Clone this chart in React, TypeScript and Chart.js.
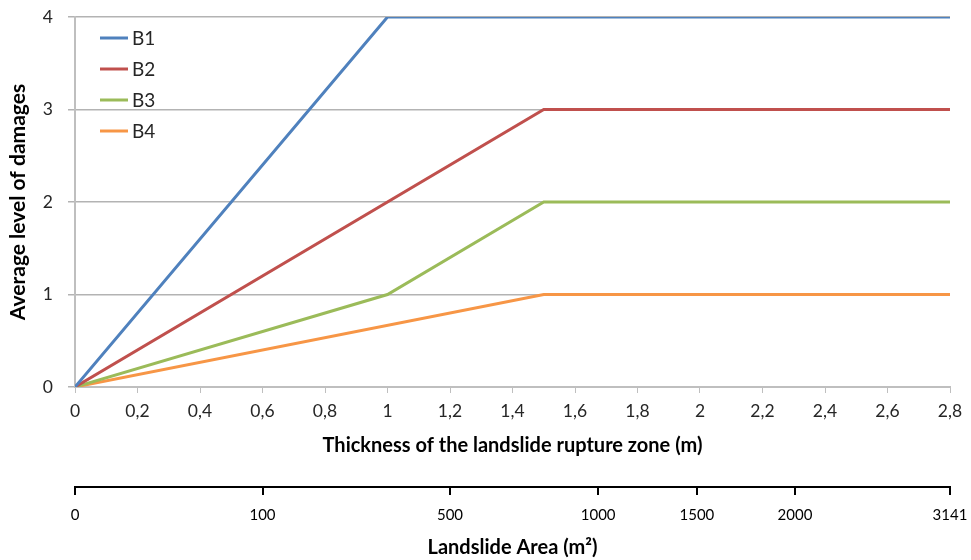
import React, { useEffect, useRef } from "react";
import { Chart, registerables } from "chart.js";

Chart.register(...registerables);

const SERIES_NAMES = ["B1", "B2", "B3", "B4"];
const SERIES_COLORS = ["#4f81bd", "#c0504d", "#9bbb59", "#f79646"];
const B1_X = [0, 1, 2.8];
const B1_Y = [0, 4, 4];
const B2_X = [0, 1.5, 2.8];
const B2_Y = [0, 3, 3];
const B3_X = [0, 1, 1.5, 2.8];
const B3_Y = [0, 1, 2, 2];
const B4_X = [0, 1.5, 2.8];
const B4_Y = [0, 1, 1];

// Landslide area secondary axis: labels and their thickness-equivalent positions
const AREA_LABELS = ["0", "100", "500", "1000", "1500", "2000", "3141"];
const AREA_POS = [0, 0.6, 1.2, 1.674, 1.99, 2.304, 2.8];

const FONT = "Lato, 'Open Sans', sans-serif";

const legendPlugin = {
  id: "insideLegend",
  afterDraw(chart: any) {
    const ctx = chart.ctx;
    const area = chart.chartArea;
    ctx.save();
    chart.data.datasets.forEach((ds: any, i: number) => {
      const y = area.top + 21 + i * 31;
      const x0 = area.left + 25;
      ctx.strokeStyle = ds.borderColor;
      ctx.lineWidth = 3;
      ctx.beginPath();
      ctx.moveTo(x0, y);
      ctx.lineTo(x0 + 28, y);
      ctx.stroke();
      ctx.fillStyle = "#262626";
      ctx.font = `19px ${FONT}`;
      ctx.textBaseline = "middle";
      ctx.textAlign = "left";
      ctx.fillText(ds.label, x0 + 32, y + 1);
    });
    ctx.restore();
  },
};

function pts(xs: number[], ys: number[]) {
  return xs.map((x, i) => ({ x, y: ys[i] }));
}

export default function App() {
  const ref = useRef<HTMLCanvasElement>(null);
  useEffect(() => {
    document.body.style.margin = "0";
    const all = [
      pts(B1_X, B1_Y),
      pts(B2_X, B2_Y),
      pts(B3_X, B3_Y),
      pts(B4_X, B4_Y),
    ];
    const chart = new Chart(ref.current!, {
      type: "line",
      data: {
        datasets: all.map((d, i) => ({
          label: SERIES_NAMES[i],
          data: d,
          borderColor: SERIES_COLORS[i],
          backgroundColor: SERIES_COLORS[i],
          borderWidth: 3,
          pointRadius: 0,
          tension: 0,
          xAxisID: "x",
          yAxisID: "y",
        })),
      },
      options: {
        animation: false,
        responsive: false,
        maintainAspectRatio: false,
        layout: { padding: { left: 0, right: 21, top: 17, bottom: 0 } },
        plugins: {
          legend: { display: false },
          tooltip: { enabled: false },
        },
        scales: {
          x: {
            type: "linear",
            position: "bottom",
            min: 0,
            max: 2.8,
            afterFit: (s: any) => {
              s.height = 100;
              s.paddingLeft = 0;
              s.paddingRight = 0;
            },
            ticks: {
              stepSize: 0.2,
              autoSkip: false,
              maxRotation: 0,
              padding: 8,
              color: "#262626",
              font: { family: FONT, size: 17.5 },
              callback: (v: any) => String(Number(Number(v).toFixed(1))).replace(".", ","),
            },
            grid: {
              drawOnChartArea: false,
              drawTicks: true,
              tickLength: 6,
              color: "#bfbfbf",
            },
            border: { color: "#bfbfbf", width: 2 },
            title: {
              display: true,
              text: "Thickness of the landslide rupture zone (m)",
              color: "#000",
              font: { family: FONT, size: 20, weight: "bold" },
              padding: { top: 0, bottom: 29 },
            },
          },
          x2: {
            type: "linear",
            position: "bottom",
            min: 0,
            max: 2.8,
            afterFit: (s: any) => {
              s.height = 73;
              s.paddingLeft = 0;
              s.paddingRight = 0;
            },
            afterBuildTicks: (s: any) => {
              s.ticks = AREA_POS.map((v) => ({ value: v }));
            },
            ticks: {
              autoSkip: false,
              maxRotation: 0,
              padding: 11,
              color: "#000",
              font: { family: FONT, size: 15 },
              callback: (_v: any, i: number) => AREA_LABELS[i],
            },
            grid: {
              drawOnChartArea: false,
              drawTicks: true,
              tickLength: 8,
              color: "#000",
              lineWidth: 2,
            },
            border: { color: "#000", width: 2 },
            title: {
              display: true,
              text: "Landslide Area (m²)",
              color: "#000",
              font: { family: FONT, size: 20, weight: "bold" },
              padding: { top: 0, bottom: 0 },
            },
          },
          y: {
            type: "linear",
            min: 0,
            max: 4,
            afterFit: (s: any) => {
              s.width = 75;
              s.paddingTop = 0;
              s.paddingBottom = 0;
            },
            ticks: {
              stepSize: 1,
              padding: 15,
              color: "#262626",
              font: { family: FONT, size: 17.5 },
            },
            grid: {
              color: "#b3b3b3",
              lineWidth: 1.5,
              tickLength: 7,
            },
            border: { color: "#bfbfbf", width: 2 },
            title: {
              display: true,
              text: "Average level of damages",
              color: "#000",
              font: { family: FONT, size: 21, weight: "bold" },
              padding: { top: 6, bottom: 0 },
            },
          },
        },
      },
      plugins: [legendPlugin],
    } as any);
    return () => chart.destroy();
  }, []);
  return (
    <div style={{ width: 971, height: 560 }}>
      <canvas ref={ref} width={971} height={560} style={{ display: "block" }} />
    </div>
  );
}
